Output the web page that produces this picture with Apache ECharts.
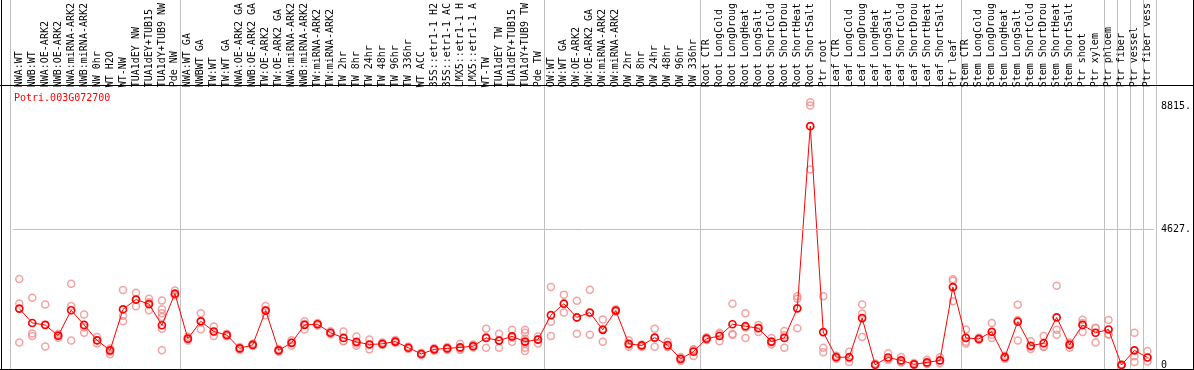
<!DOCTYPE html>
<html><head><meta charset="utf-8">
<script src="https://cdn.jsdelivr.net/npm/echarts@6/dist/echarts.min.js"></script>
<style>html,body{margin:0;padding:0;background:#fff}#c{width:1194px;height:370px}</style>
</head><body><div id="c"></div>
<script>
const geneId = 'Potri.003G072700';
const categories = [
  'NWA:WT','NWB:WT','NWA:OE-ARK2','NWB:OE-ARK2','NWA:miRNA-ARK2','NWB:miRNA-ARK2','NW 0hr','WT H2O','WT-NW','TUA1dEY NW','TUA1dEY+TUB15','TUA1dY+TUB9 NW','Pde NW',
  'NWA:WT GA','NWBWT GA','TW:WT','TW:WT GA','NWA:OE-ARK2 GA','NWB:OE-ARK2 GA','TW:OE-ARK2','TW:OE-ARK2 GA','NWA:miRNA-ARK2','NWB:miRNA-ARK2','TW:miRNA-ARK2','TW:miRNA-ARK2',
  'TW 2hr','TW 8hr','TW 24hr','TW 48hr','TW 96hr','TW 336hr','WT ACC','35S::etr1-1 H2','35S::etr1-1 AC','LMX5::etr1-1 H','LMX5::etr1-1 A','WT-TW','TUA1dEY TW','TUA1dEY+TUB15','TUA1dY+TUB9 TW','Pde TW',
  'OW:WT','OW:WT GA','OW:OE-ARK2','OW:OE-ARK2 GA','OW:miRNA-ARK2','OW:miRNA-ARK2','OW 2hr','OW 8hr','OW 24hr','OW 48hr','OW 96hr','OW 336hr',
  'Root CTR','Root LongCold','Root LongDroug','Root LongHeat','Root LongSalt','Root ShortCold','Root ShortDrou','Root ShortHeat','Root ShortSalt','Ptr root',
  'Leaf CTR','Leaf LongCold','Leaf LongDroug','Leaf LongHeat','Leaf LongSalt','Leaf ShortCold','Leaf ShortDrou','Leaf ShortHeat','Leaf ShortSalt','Ptr leaf',
  'Stem CTR','Stem LongCold','Stem LongDroug','Stem LongHeat','Stem LongSalt','Stem ShortCold','Stem ShortDrou','Stem ShortHeat','Stem ShortSalt','Ptr shoot','Ptr xylem',
  'Ptr phloem','Ptr fiber','Ptr vessel','Ptr fiber vess'
];
const means = [
  1924,1434,1367,1001,1868,1367,844,500,1901,2234,2078,1357,2435,
  900,1491,1144,1024,567,690,1858,500,757,1367,1391,1101,
  924,790,700,724,800,590,377,534,567,600,644,924,834,977,800,867,
  1701,2091,1624,1791,1201,1858,724,667,934,677,210,457,
  900,990,1391,1324,1257,800,924,1934,8147,1124,
  267,267,1601,10,257,157,23,90,157,2658,
  924,890,1134,267,1477,657,744,1624,690,1367,1101,
  1211,0,500,257
];
const replicates = [
  [2935,2101,767],[2291,1077,990],[2068,634,1367],[1067,1001,934],[2768,2011,834],[1724,1101,1277],[957,834,734],[567,457,367],
  [2558,1678,1491],[2468,2234,2001],[2258,2144,1868],[2201,1901,1768,1634,1234,500],[2545,2401,2368],
  [967,900,834],[1768,1224,1501],[1311,990,1134],[1067,1001,984],[617,567,517],[734,684,650],[2011,1701,1868],[550,500,450],
  [844,657,767],[1491,1211,1401],[1434,1384,1351],[1151,1101,1051],
  [1144,810,817],[977,657,734],[867,534,700],[767,717,684],[850,800,750],[634,584,550],[417,377,334],[584,534,484],[617,567,517],
  [724,567,517],[700,644,600],[1234,590,950],[1067,590,834],[1201,790,934],[1201,1101,900,734,590,477],[977,734,867],
  [2658,1477,990],[2401,1791,2084],[2191,1067,1617],[2568,1034,1768],[1557,790,1234],[1901,1858,1818],[844,624,700],[700,667,617],
  [1234,624,934],[790,634,617],[277,200,150],[534,310,517],
  [950,900,850],[1101,810,1051],[2091,1057,1034],[1768,924,1284],[1367,1124,1267],[924,700,767],[1157,590,1017],[2345,2258,1257],
  [8961,8848,6670],[2345,590,434],
  [317,267,217],[457,100,233],[2068,1758,957],[50,10,0],[400,177,200],[277,100,83],[67,17,0],[177,50,33],[267,57,150],[2925,2178,2878],
  [1211,790,734],[934,890,850],[1434,924,1034],[317,267,217],[2058,834,1534],[810,544,617],[990,634,617],[2701,1201,1034],[767,590,717],
  [1544,1124,1434],[1267,767,1267],
  [1534,1044,1051],[0,0,30],[1101,300,100],[477,257,124]
];
const groupStarts = [0,13,41,53,63,73,84,85,86,87];
const yTickValues = [0, 4627, 8815];
const yTickLabels = ['0', '4627.', '8815.'];
const gridLineValues = [4627];

const repPoints = [];
replicates.forEach((arr, i) => arr.forEach(v => repPoints.push([i, v])));
const labelOf = v => yTickLabels[yTickValues.indexOf(v)];
const FONT = 'DejaVu Sans Mono';
const Y_MIN = -67, Y_MAX = 9370;
const GREY = '#c0c0c0';

const chart = echarts.init(document.getElementById('c'), null, {renderer: 'canvas'});
chart.setOption({
  animation: false,
  backgroundColor: '#fff',
  title: {text: geneId, left: 9, top: 88, textStyle: {color: '#ff0000', fontSize: 10, fontFamily: FONT, fontWeight: 'normal'}},
  grid: [
    {left: 12.8, width: 1143.7, top: 86, height: 283},
    {left: 10.7, width: 1145.3, top: 0, height: 369}
  ],
  xAxis: [
    {type: 'category', gridIndex: 0, data: categories, position: 'top', boundaryGap: true,
     axisLine: {show: false}, axisTick: {show: false}, splitLine: {show: false},
     axisLabel: {interval: 0, rotate: 90, margin: 3, fontSize: 10, fontFamily: FONT, color: '#000'}},
    {type: 'category', gridIndex: 1, data: categories, boundaryGap: true,
     axisLine: {show: false}, axisTick: {show: false}, axisLabel: {show: false},
     splitLine: {show: true, interval: (i) => groupStarts.indexOf(i) >= 0, lineStyle: {color: GREY, width: 1}}}
  ],
  yAxis: [
    {type: 'value', gridIndex: 0, position: 'right', min: Y_MIN, max: Y_MAX,
     splitLine: {show: false}, axisLine: {show: false}, axisTick: {show: false},
     axisLabel: {customValues: yTickValues.filter(v => v > 0), formatter: labelOf, verticalAlign: 'middle', align: 'left',
                 padding: [8, 0, 0, 0], margin: 7, fontSize: 10, fontFamily: FONT, color: '#000'}},
    {type: 'value', gridIndex: 0, position: 'right', min: Y_MIN, max: Y_MAX,
     splitLine: {show: false}, axisLine: {show: false}, axisTick: {show: false},
     axisLabel: {customValues: yTickValues.filter(v => v === 0), formatter: labelOf, verticalAlign: 'middle', align: 'left',
                 padding: [0, 0, 9, 0], margin: 7, fontSize: 10, fontFamily: FONT, color: '#000'}},
    {type: 'value', gridIndex: 1, show: false, min: 0, max: 1}
  ],
  series: [
    {type: 'scatter', xAxisIndex: 0, yAxisIndex: 0, data: repPoints, symbol: 'circle', symbolSize: 7,
     itemStyle: {color: 'rgba(0,0,0,0)', borderColor: '#f08c8c', borderWidth: 1.5}, z: 2, silent: true,
     markLine: {silent: true, symbol: 'none', label: {show: false}, animation: false,
                lineStyle: {color: GREY, type: 'solid', width: 1},
                data: gridLineValues.map(v => ({yAxis: v}))}},
    {type: 'line', xAxisIndex: 0, yAxisIndex: 0, data: means, symbol: 'circle', symbolSize: 7, showAllSymbol: true,
     lineStyle: {color: '#ff0000', width: 1}, itemStyle: {color: 'rgba(0,0,0,0)', borderColor: '#ff0000', borderWidth: 1.7}, z: 3, silent: true}
  ],
  graphic: [
    {type: 'line', shape: {x1: 0, y1: 85.5, x2: 1194, y2: 85.5}, style: {stroke: '#000', lineWidth: 1}, z: 10},
    {type: 'line', shape: {x1: 1.5, y1: 0, x2: 1.5, y2: 370}, style: {stroke: '#000', lineWidth: 1}, z: 10},
    {type: 'line', shape: {x1: 1193.5, y1: 0, x2: 1193.5, y2: 370}, style: {stroke: '#000', lineWidth: 1}, z: 10},
    {type: 'line', shape: {x1: 0, y1: 369.5, x2: 1194, y2: 369.5}, style: {stroke: '#000', lineWidth: 1}, z: 10}
  ]
});
</script></body></html>
